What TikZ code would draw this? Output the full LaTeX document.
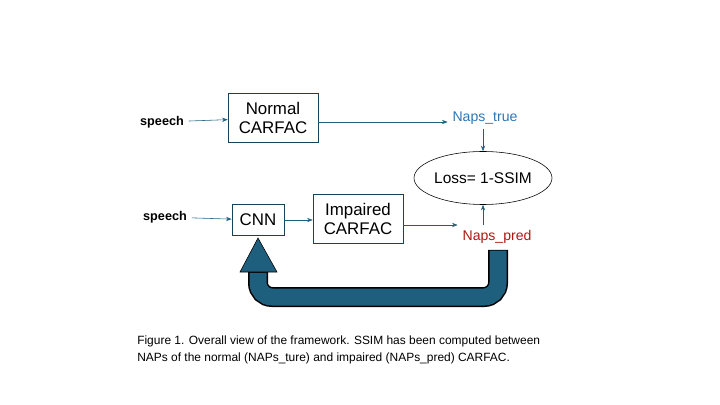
\documentclass[tikz,border=0pt]{standalone}
\usepackage{fontspec}
\setmainfont{Liberation Sans}
\usetikzlibrary{positioning, arrows.meta, shapes.geometric}
\definecolor{napsblue}{HTML}{2E75B6}
\definecolor{napsred}{HTML}{B01515}
\definecolor{loopteal}{HTML}{1F5F7E}

\tikzset{
  block/.style={draw=loopteal!70!black, thin, align=center, font=\fontsize{12}{13}\selectfont},
  src/.style={font=\bfseries\fontsize{9}{10}\selectfont},
  flow/.style={-{Stealth[length=4pt,width=3pt]}, loopteal, thin}
}

\begin{document}
\begin{tikzpicture}[x=0.025cm, y=-0.025cm]
\useasboundingbox (0,0) rectangle (720,405);

\node[src] (speechA) at (162,122) {speech};
\node[block, minimum width=90*0.025cm, minimum height=49*0.025cm] (normal) at (273,118) {Normal\\CARFAC};
\node[text=napsblue, font=\fontsize{10}{11}\selectfont] (true) at (485,118) {Naps\_true};
\node[draw, ellipse, minimum width=104*0.025cm, minimum height=53*0.025cm, inner sep=0pt, font=\fontsize{11}{12}\selectfont] (loss) at (483,178) {Loss= 1-SSIM};

\node[src] (speechB) at (165,217) {speech};
\node[block, minimum width=52*0.025cm, minimum height=31*0.025cm] (cnn) at (258,220) {CNN};
\node[block, minimum width=90*0.025cm, minimum height=49*0.025cm] (impaired) at (358,219) {Impaired\\CARFAC};
\node[text=napsred, font=\fontsize{10}{11}\selectfont] (pred) at (497,237) {Naps\_pred};

\draw[flow] (speechA) -- (normal);
\draw[flow] (normal.east |- 0,122) -- (true.west |- 0,122);
\draw[flow] (true.south -| loss.north) -- (loss.north);
\draw[flow] (speechB) -- (cnn);
\draw[flow] (cnn) -- (impaired.west |- cnn);
\draw[flow] (impaired.east |- 0,225) -- (pred.west |- 0,225);
\draw[flow] (pred.north -| loss.south) -- (loss.south);

% feedback loop
\coordinate (loopA) at (498,250);
\coordinate (loopB) at (258,270);
\draw[black, line width=20*0.025cm, rounded corners=14*0.025cm] (loopA) -- (498,297) -- (258,297) -- (loopB);
\draw[loopteal, line width=17*0.025cm, rounded corners=14*0.025cm] ([yshift=-0.5pt]loopA) -- (498,297) -- (258,297) -- ([yshift=-2pt]loopB);
\draw[black, thin, fill=loopteal] (240,272) -- (258,238) -- (277,272) -- cycle;

\node[anchor=north west, align=left, font=\fontsize{8.5}{11.5}\selectfont, inner sep=0pt] (caption) at (137,336)
  {Figure 1. Overall view of the framework. SSIM has been computed between\\
   NAPs of the normal (NAPs\_ture) and impaired (NAPs\_pred) CARFAC.};
\end{tikzpicture}
\end{document}
